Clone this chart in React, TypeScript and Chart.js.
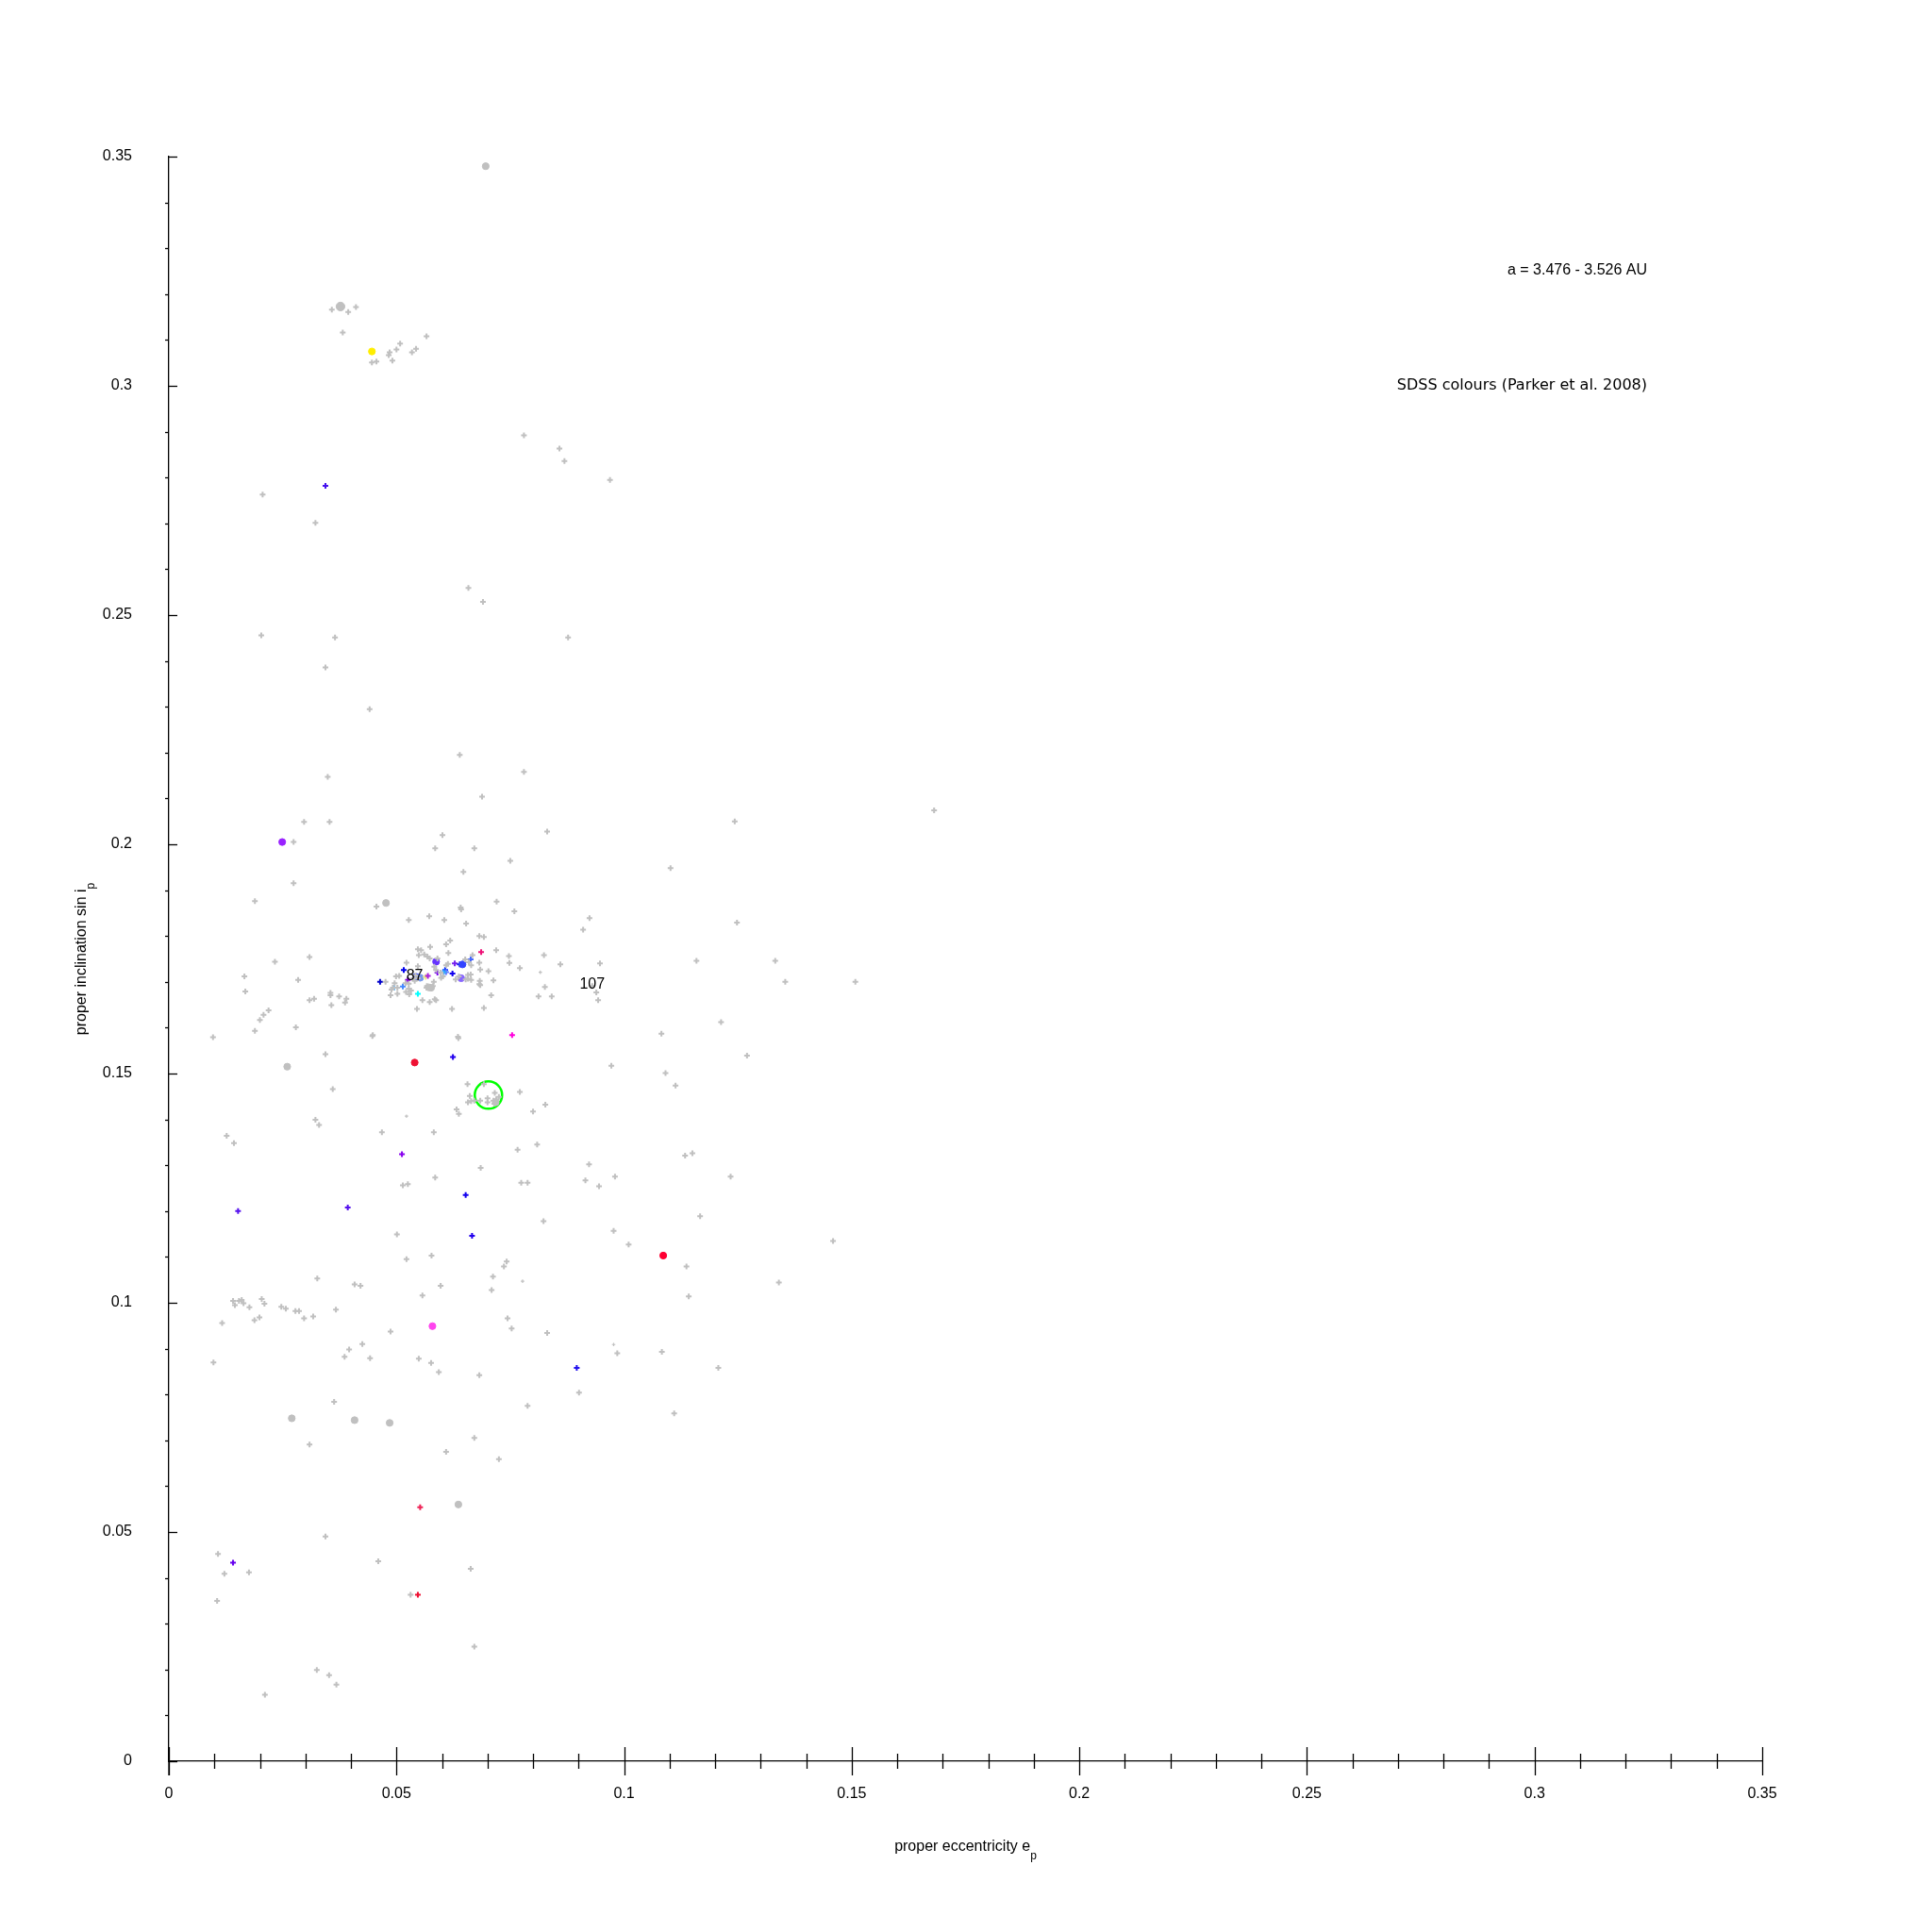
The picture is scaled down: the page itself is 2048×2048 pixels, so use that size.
import React, { useEffect, useRef } from 'react';
import { Chart, registerables } from 'chart.js';
Chart.register(...registerables);

// ---------- data ----------
// gray asteroids: proper eccentricity, proper sin(i), size class (0 tiny, 1 normal, 2 bigger, 3 big)
const grayE = [
  0.0696, 0.0358, 0.0377, 0.0394, 0.0411, 0.0382, 0.0446, 0.0456, 0.0485, 0.0483, 0.0500, 0.0508, 0.0491, 0.0534, 0.0543, 0.0566,
  0.0780, 0.0858, 0.0869, 0.0969, 0.0206, 0.0322, 0.0658, 0.0690, 0.0203, 0.0365, 0.0877, 0.0344, 0.0441, 0.0639, 0.0780, 0.0349,
  0.0688, 0.1681, 0.1243, 0.0297, 0.0353, 0.0274, 0.0601, 0.0831,
  0.0585, 0.0671, 0.0750, 0.1102, 0.0647, 0.0274, 0.0189, 0.0477, 0.0456, 0.0720, 0.0527, 0.0641, 0.0642, 0.0759, 0.0572, 0.0924,
  0.1248, 0.0605, 0.0653, 0.0910, 0.0682, 0.0692,
  0.0618, 0.0609, 0.0574, 0.0547, 0.0554, 0.0719, 0.0614, 0.0549, 0.0561, 0.0568, 0.0573, 0.0590, 0.0667, 0.0651, 0.0682, 0.0522,
  0.0547, 0.0583, 0.0587, 0.0613, 0.0609, 0.0659, 0.0664, 0.0702, 0.0684, 0.0597, 0.0657, 0.0663, 0.0506, 0.0499, 0.0542, 0.0537,
  0.0540, 0.0547, 0.0598, 0.0602, 0.0637, 0.0652, 0.0657, 0.0664, 0.0713, 0.0683, 0.0682, 0.0630, 0.0476, 0.0496, 0.0520, 0.0527,
  0.0492, 0.0489, 0.0502, 0.0527, 0.0532, 0.0567, 0.0571, 0.0576, 0.0580, 0.0566, 0.0582, 0.0521, 0.0528, 0.0487, 0.0502, 0.0584,
  0.0587, 0.0557, 0.0573, 0.0708, 0.0684, 0.0545, 0.0622, 0.0692, 0.0448, 0.0635,
  0.0747, 0.0824, 0.0748, 0.0771, 0.0860, 0.0947, 0.0816, 0.0826, 0.0812, 0.0841, 0.0939, 0.0943, 0.0930, 0.1082,
  0.1159, 0.1332, 0.1354, 0.1508, 0.0233, 0.0309, 0.0166, 0.0284,
  0.0097, 0.0189, 0.0200, 0.0208, 0.0219, 0.0168, 0.0279, 0.0319, 0.0309, 0.0355, 0.0355, 0.0357, 0.0374, 0.0390, 0.0387, 0.0260,
  0.0344, 0.0447, 0.0636, 0.0972, 0.1091, 0.1113, 0.1270, 0.1213, 0.0360, 0.0522, 0.0468, 0.0582, 0.0632, 0.0637, 0.0656, 0.0661,
  0.0657, 0.0664, 0.0671, 0.0684, 0.0692, 0.0700, 0.0700, 0.0716, 0.0713, 0.0718, 0.0719, 0.0725, 0.0715, 0.0771, 0.0800, 0.0827,
  0.0766, 0.0809, 0.0127, 0.0143, 0.0322, 0.0330,
  0.0685, 0.0585, 0.0514, 0.0525, 0.0774, 0.0788, 0.0915, 0.0923, 0.0945, 0.0980, 0.0823, 0.0977, 0.1010, 0.1167, 0.1134, 0.1150,
  0.1234, 0.1459, 0.1137, 0.1142, 0.1340, 0.0501, 0.0522, 0.0577, 0.0742, 0.0736, 0.0712, 0.0709, 0.0777,
  0.0326, 0.0408, 0.0421, 0.0597, 0.0557, 0.0141, 0.0154, 0.0160, 0.0145, 0.0164, 0.0177, 0.0204, 0.0210, 0.0188, 0.0199, 0.0117,
  0.0247, 0.0257, 0.0278, 0.0286, 0.0297, 0.0317, 0.0367, 0.0098, 0.0487, 0.0425, 0.0396, 0.0386, 0.0442, 0.0549, 0.0576, 0.0593,
  0.0744, 0.0753, 0.0831, 0.0682, 0.0901, 0.0977, 0.0985, 0.1083, 0.1207,
  0.1110, 0.0788, 0.0363, 0.0270, 0.0408, 0.0485, 0.0309, 0.0671, 0.0609, 0.0725, 0.0636, 0.0344, 0.0460, 0.0663, 0.0108, 0.0122,
  0.0176, 0.0106, 0.0531, 0.0671, 0.0325, 0.0352, 0.0368, 0.0211,
];
const grayI = [
  0.3479, 0.3166, 0.3173, 0.3161, 0.3172, 0.3116, 0.3051, 0.3053, 0.3073, 0.3067, 0.3079, 0.3092, 0.3055, 0.3073, 0.3081, 0.3108,
  0.2892, 0.2863, 0.2836, 0.2795, 0.2763, 0.2701, 0.2559, 0.2529, 0.2456, 0.2451, 0.2451, 0.2386, 0.2295, 0.2195, 0.2158, 0.2147,
  0.2104, 0.2074, 0.2050, 0.2049, 0.2049, 0.2005, 0.2020, 0.2028,
  0.1991, 0.1991, 0.1964, 0.1948, 0.1940, 0.1915, 0.1876, 0.1872, 0.1864, 0.1875, 0.1835, 0.1862, 0.1858, 0.1854, 0.1843, 0.1839,
  0.1829, 0.1835, 0.1827, 0.1814, 0.1800, 0.1798,
  0.1790, 0.1782, 0.1776, 0.1771, 0.1769, 0.1769, 0.1763, 0.1758, 0.1760, 0.1755, 0.1751, 0.1751, 0.1758, 0.1749, 0.1742, 0.1742,
  0.1734, 0.1733, 0.1726, 0.1739, 0.1736, 0.1743, 0.1736, 0.1723, 0.1727, 0.1720, 0.1715, 0.1716, 0.1713, 0.1712, 0.1714, 0.1708,
  0.1702, 0.1708, 0.1709, 0.1712, 0.1712, 0.1705, 0.1707, 0.1704, 0.1703, 0.1702, 0.1695, 0.1705, 0.1700, 0.1697, 0.1697, 0.1696,
  0.1687, 0.1683, 0.1687, 0.1685, 0.1681, 0.1691, 0.1688, 0.1687, 0.1691, 0.1687, 0.1700, 0.1678, 0.1673, 0.1671, 0.1674, 0.1662,
  0.1660, 0.1660, 0.1656, 0.1671, 0.1693, 0.1641, 0.1641, 0.1643, 0.1584, 0.1580,
  0.1756, 0.1758, 0.1741, 0.1730, 0.1738, 0.1740, 0.1721, 0.1689, 0.1668, 0.1668, 0.1677, 0.1660, 0.1691, 0.1587,
  0.1746, 0.1746, 0.1700, 0.1700, 0.1744, 0.1754, 0.1712, 0.1704,
  0.1579, 0.1593, 0.1617, 0.1628, 0.1638, 0.1679, 0.1601, 0.1663, 0.1660, 0.1676, 0.1671, 0.1649, 0.1668, 0.1663, 0.1655, 0.1515,
  0.1542, 0.1582, 0.1577, 0.1517, 0.1501, 0.1474, 0.1539, 0.1612, 0.1466, 0.1407, 0.1372, 0.1372, 0.1422, 0.1412, 0.1477, 0.1451,
  0.1437, 0.1440, 0.1441, 0.1441, 0.1477, 0.1446, 0.1437, 0.1458, 0.1441, 0.1437, 0.1444, 0.1449, 0.1434, 0.1460, 0.1417, 0.1432,
  0.1334, 0.1345, 0.1364, 0.1348, 0.1399, 0.1388,
  0.1294, 0.1273, 0.1256, 0.1259, 0.1262, 0.1262, 0.1267, 0.1302, 0.1254, 0.1275, 0.1178, 0.1157, 0.1127, 0.1189, 0.1321, 0.1326,
  0.1275, 0.1135, 0.1079, 0.1014, 0.1044, 0.1149, 0.1095, 0.1103, 0.1090, 0.1079, 0.1057, 0.1028, 0.1047,
  0.1053, 0.1040, 0.1037, 0.1037, 0.1016, 0.1004, 0.1004, 0.1006, 0.0995, 0.0999, 0.0990, 0.1008, 0.0998, 0.0962, 0.0968, 0.0956,
  0.0991, 0.0987, 0.0982, 0.0982, 0.0966, 0.0970, 0.0985, 0.0870, 0.0937, 0.0910, 0.0898, 0.0882, 0.0879, 0.0878, 0.0869, 0.0849,
  0.0966, 0.0944, 0.0934, 0.0842, 0.0804, 0.0909, 0.0890, 0.0893, 0.0858,
  0.0759, 0.0775, 0.0784, 0.0748, 0.0744, 0.0738, 0.0691, 0.0705, 0.0675, 0.0659, 0.0560, 0.0490, 0.0436, 0.0420, 0.0452, 0.0409,
  0.0412, 0.0350, 0.0363, 0.0250, 0.0199, 0.0188, 0.0167, 0.0145,
];
const graySize = [
  2, 1, 3, 1, 1, 1, 1, 1, 1, 1, 1, 1, 1, 1, 1, 1,
  1, 1, 1, 1, 1, 1, 1, 1, 1, 1, 1, 1, 1, 1, 1, 1,
  1, 1, 1, 1, 1, 1, 1, 1,
  1, 1, 1, 1, 1, 1, 1, 2, 1, 1, 1, 1, 1, 1, 1, 1,
  1, 1, 1, 1, 1, 1,
  1, 1, 1, 1, 1, 1, 1, 1, 1, 1, 1, 1, 1, 1, 1, 1,
  1, 1, 1, 1, 1, 1, 1, 1, 1, 1, 1, 1, 1, 1, 1, 1,
  1, 1, 1, 1, 1, 1, 1, 1, 1, 1, 1, 1, 1, 1, 1, 1,
  1, 1, 1, 1, 1, 1, 2, 2, 1, 1, 1, 1, 1, 1, 1, 1,
  1, 1, 1, 1, 1, 1, 1, 1, 1, 1,
  1, 1, 1, 1, 1, 1, 0, 1, 1, 1, 1, 1, 1, 1,
  1, 1, 1, 1, 1, 1, 1, 1,
  1, 1, 1, 1, 1, 1, 1, 1, 1, 1, 1, 1, 1, 1, 1, 2,
  1, 1, 1, 1, 1, 1, 1, 1, 1, 0, 1, 1, 1, 1, 1, 1,
  1, 1, 1, 1, 1, 1, 1, 1, 1, 2, 1, 1, 1, 1, 1, 1,
  1, 1, 1, 1, 1, 1,
  1, 1, 1, 1, 1, 1, 1, 1, 1, 1, 1, 1, 1, 1, 1, 1,
  1, 1, 1, 1, 1, 1, 1, 1, 1, 1, 1, 1, 0,
  1, 1, 1, 1, 1, 1, 1, 1, 1, 1, 1, 1, 1, 1, 1, 1,
  1, 1, 1, 1, 1, 1, 1, 1, 1, 1, 1, 1, 1, 1, 1, 1,
  1, 1, 1, 1, 1, 0, 1, 1, 1,
  1, 1, 1, 2, 2, 2, 1, 1, 1, 1, 2, 1, 1, 1, 1, 1,
  1, 1, 1, 1, 1, 1, 1, 1,
];

// SDSS-coloured asteroids
const colE = [
  0.0446, 0.0344, 0.0249, 0.0686, 0.0587, 0.0628, 0.0639, 0.0645, 0.0663, 0.0516, 0.0607, 0.0590, 0.0609, 0.0604, 0.0623, 0.0642,
  0.0525, 0.0543, 0.0552, 0.0564, 0.0569, 0.0464, 0.0495, 0.0514, 0.0547, 0.0754, 0.0540, 0.0624, 0.0512, 0.0393, 0.0152, 0.0652,
  0.0666, 0.1086, 0.0579, 0.0896, 0.0552, 0.0141, 0.0547,
];
const colI = [
  0.3075, 0.2782, 0.2005, 0.1765, 0.1744, 0.1740, 0.1738, 0.1738, 0.1749, 0.1726, 0.1726, 0.1720, 0.1721, 0.1721, 0.1718, 0.1708,
  0.1704, 0.1711, 0.1709, 0.1711, 0.1713, 0.1700, 0.1687, 0.1690, 0.1674, 0.1584, 0.1524, 0.1536, 0.1324, 0.1208, 0.1200, 0.1235,
  0.1146, 0.1103, 0.0949, 0.0858, 0.0554, 0.0433, 0.0363,
];
const colColor = [
  '#ffee00', '#4411ee', '#9922ff', '#ee1177', '#6633ff', '#7722ee', '#1111ee', '#3344ff', '#4466ff', '#0000ee', '#0022ff', '#7700ee', '#6677ff', '#33aaff', '#1100ee', '#8866ff',
  '#8800dd', '#4455ff', '#7799ee', '#eeee88', '#aa22dd', '#0000cc', '#66bbff', '#4488ff', '#00ffff', '#ff00dd', '#ee1133', '#2200ee', '#8800ee', '#5511ee', '#5511ee', '#1100ee',
  '#2200ee', '#ff0033', '#ff44ee', '#2211ee', '#ee2255', '#6600ee', '#ee1133',
];
const colSize = [
  2, 1, 2, 1, 2, 1, 1, 2, 1, 1, 1, 1, 1, 1, 1, 2,
  1, 2, 2, 1, 1, 1, 1, 1, 1, 1, 2, 1, 1, 1, 1, 1,
  1, 2, 2, 1, 1, 1, 1,
];

// highlighted family centre (green circle)
const circleE = [0.0702];
const circleI = [0.1453];

// family number labels
const labelText = ['87', '107'];
const labelE = [0.0540, 0.0930];
const labelI = [0.1713, 0.1695];

const xTickValues = [0, 0.05, 0.1, 0.15, 0.2, 0.25, 0.3, 0.35];
const yTickValues = [0, 0.05, 0.1, 0.15, 0.2, 0.25, 0.3, 0.35];
const rangeText = 'a = 3.476 - 3.526 AU';
const sourceText = 'SDSS colours (Parker et al. 2008)';

// ---------- styles ----------
const GRAY = '#c0c0c0';
const RADIUS = [1.8, 3, 3.6, 4.6];
const BORDER = [1.2, 2, 1, 1];
const SANS = '"Liberation Sans", Arial, sans-serif';

const fmt = (v: number) => String(Number(v.toFixed(2)));

const overlayPlugin = {
  id: 'overlay',
  afterDatasetsDraw(chart: any) {
    const { ctx, scales, chartArea } = chart;
    const xs = scales.x;
    const ys = scales.y;
    ctx.save();
    ctx.strokeStyle = '#000';
    ctx.lineWidth = 1.3;
    // x ticks
    const yb = chartArea.bottom;
    for (let k = 0; k <= 35; k++) {
      const px = Math.round(xs.getPixelForValue(k / 100)) + 0.5;
      const major = k % 5 === 0;
      const h = major ? 15 : 8;
      ctx.beginPath();
      ctx.moveTo(px, yb - h);
      ctx.lineTo(px, yb + h);
      ctx.stroke();
    }
    // y ticks
    const xl = chartArea.left;
    for (let k = 0; k <= 35; k++) {
      const py = Math.round(ys.getPixelForValue(k / 100)) + 0.5;
      const major = k % 5 === 0;
      ctx.beginPath();
      if (major) {
        ctx.moveTo(xl, py);
        ctx.lineTo(xl + 9, py);
      } else {
        ctx.moveTo(xl - 4, py);
        ctx.lineTo(xl, py);
      }
      ctx.stroke();
    }
    ctx.beginPath();
    ctx.moveTo(xl, yb);
    ctx.lineTo(xl, yb + 15);
    ctx.stroke();

    // family labels
    ctx.fillStyle = '#000';
    ctx.font = '16px ' + SANS;
    ctx.textAlign = 'center';
    ctx.textBaseline = 'middle';
    for (let i = 0; i < labelText.length; i++) {
      ctx.fillText(labelText[i], xs.getPixelForValue(labelE[i]), ys.getPixelForValue(labelI[i]));
    }

    // top-right annotations
    ctx.textAlign = 'right';
    ctx.textBaseline = 'alphabetic';
    ctx.font = '16px ' + SANS;
    ctx.fillText(rangeText, 1746, 291);
    ctx.font = '16px "DejaVu Sans", sans-serif';
    ctx.fillText(sourceText, 1746, 413);

    // x axis title with subscript
    ctx.font = '16px ' + SANS;
    const xMain = 'proper eccentricity e';
    const wMain = ctx.measureText(xMain).width;
    ctx.font = '12px ' + SANS;
    const wSub = ctx.measureText('p').width;
    const cx = (chartArea.left + chartArea.right) / 2;
    const sx = cx - (wMain + wSub) / 2;
    ctx.textAlign = 'left';
    ctx.font = '16px ' + SANS;
    ctx.fillText(xMain, sx, 1962);
    ctx.font = '12px ' + SANS;
    ctx.fillText('p', sx + wMain, 1971);

    // y axis title with subscript (rotated)
    ctx.font = '16px ' + SANS;
    const yMain = 'proper inclination sin i';
    const wyMain = ctx.measureText(yMain).width;
    ctx.font = '12px ' + SANS;
    const wySub = ctx.measureText('p').width;
    const cy = (chartArea.top + chartArea.bottom) / 2;
    ctx.translate(91, cy);
    ctx.rotate(-Math.PI / 2);
    const sy = -(wyMain + wySub) / 2;
    ctx.font = '16px ' + SANS;
    ctx.fillText(yMain, sy, 0);
    ctx.font = '12px ' + SANS;
    ctx.fillText('p', sy + wyMain, 9);
    ctx.restore();
  },
};

export default function App() {
  const ref = useRef<HTMLCanvasElement>(null);
  useEffect(() => {
    if (!ref.current) return;
    const grayData = grayE.map((e, i) => ({ x: e, y: grayI[i] }));
    const colData = colE.map((e, i) => ({ x: e, y: colI[i] }));
    const circleData = circleE.map((e, i) => ({ x: e, y: circleI[i] }));
    const chart = new Chart(ref.current, {
      type: 'scatter',
      data: {
        datasets: [
          {
            label: 'asteroids',
            data: grayData,
            pointRadius: graySize.map((s) => RADIUS[s]),
            pointStyle: graySize.map((s) => (s >= 2 ? 'circle' : 'cross')) as any,
            pointBorderWidth: graySize.map((s) => BORDER[s]),
            pointBackgroundColor: GRAY,
            pointBorderColor: GRAY,
          },
          {
            label: 'SDSS',
            data: colData,
            pointRadius: colSize.map((s) => RADIUS[s]),
            pointStyle: colSize.map((s) => (s >= 2 ? 'circle' : 'cross')) as any,
            pointBorderWidth: colSize.map((s) => BORDER[s]),
            pointBackgroundColor: colColor,
            pointBorderColor: colColor,
          },
          {
            label: 'family',
            data: circleData,
            pointRadius: 14.5,
            pointStyle: 'circle',
            pointBorderWidth: 2.5,
            pointBackgroundColor: 'rgba(0,0,0,0)',
            pointBorderColor: '#00ff00',
          },
        ],
      },
      options: {
        responsive: false,
        animation: false,
        devicePixelRatio: 1,
        layout: { padding: { left: 0, top: 166, right: 180, bottom: 0 } },
        plugins: { legend: { display: false }, tooltip: { enabled: false }, title: { display: false } },
        scales: {
          x: {
            type: 'linear',
            min: 0,
            max: 0.35,
            afterFit: (s: any) => { s.height = 181; },
            afterBuildTicks: (s: any) => { s.ticks = xTickValues.map((v) => ({ value: v })); },
            grid: { display: false, drawTicks: false },
            border: { display: true, color: '#000', width: 1.3 },
            ticks: {
              color: '#000',
              padding: 25,
              autoSkip: false,
              maxRotation: 0,
              font: { family: SANS, size: 16 },
              callback: (v: any) => fmt(Number(v)),
            },
          },
          y: {
            type: 'linear',
            min: 0,
            max: 0.35,
            afterFit: (s: any) => { s.width = 179; },
            afterBuildTicks: (s: any) => { s.ticks = yTickValues.map((v) => ({ value: v })); },
            grid: { display: false, drawTicks: false },
            border: { display: true, color: '#000', width: 1.3 },
            ticks: {
              color: '#000',
              padding: 39,
              autoSkip: false,
              font: { family: SANS, size: 16 },
              callback: (v: any) => fmt(Number(v)),
            },
          },
        },
      },
      plugins: [overlayPlugin],
    });
    return () => chart.destroy();
  }, []);
  return (
    <div style={{ position: 'absolute', left: 0, top: 0, width: 2048, height: 2048, background: '#fff' }}>
      <canvas ref={ref} width={2048} height={2048} style={{ display: 'block' }} />
    </div>
  );
}
